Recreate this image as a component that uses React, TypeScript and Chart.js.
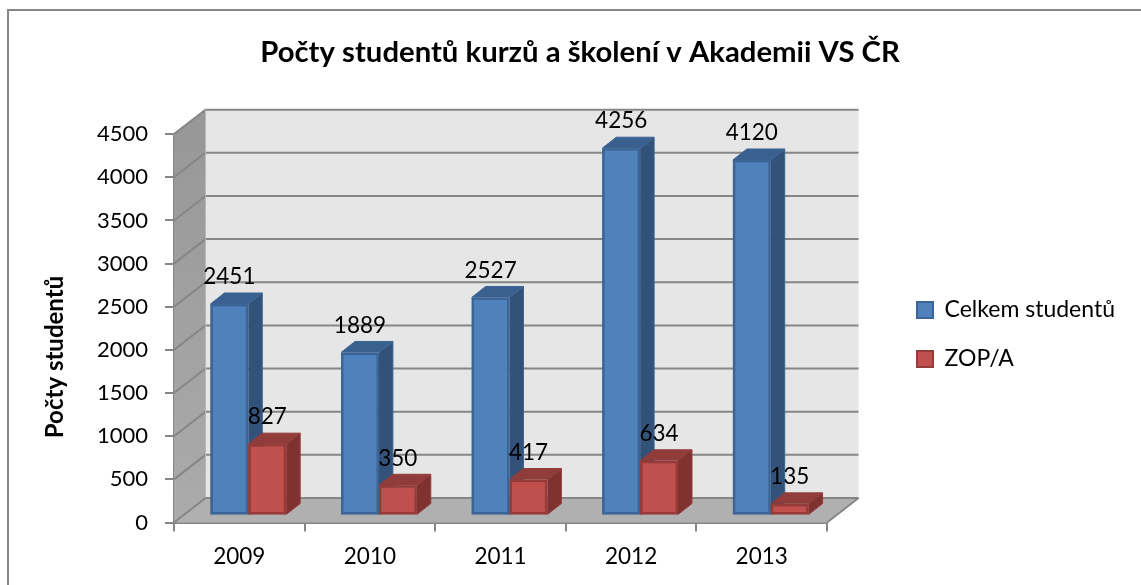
import React, { useEffect, useRef } from "react";
import { Chart, registerables } from "chart.js";

Chart.register(...registerables);

const categories = ["2009", "2010", "2011", "2012", "2013"];
const celkem = [2451, 1889, 2527, 4256, 4120];
const zop = [827, 350, 417, 634, 135];

const titleText = "Počty studentů kurzů a školení v Akademii VS ČR";
const yTitleText = "Počty studentů";
const FONT = "Lato, Carlito, Calibri, sans-serif";
const GRID = "#868686";

// 3D projection offsets, relative to the front plane of the axes
const WALL = { dx: 31.5, dy: -24.5 };
const BAR_FRONT = { dx: 9, dy: -7 };
const BAR_DEPTH = { dx: 14, dy: -11 };

const faces = [
  { side: "#33527A", top: "#3A6090", edge: "#3A6596" },
  { side: "#7F3230", top: "#8F3C3A", edge: "#953B39" },
];

function poly(ctx: CanvasRenderingContext2D, pts: number[][], fill: string | CanvasGradient) {
  ctx.beginPath();
  pts.forEach((p, i) => (i ? ctx.lineTo(p[0], p[1]) : ctx.moveTo(p[0], p[1])));
  ctx.closePath();
  ctx.fillStyle = fill;
  ctx.fill();
}

const scene = {
  id: "scene",
  afterLayout(chart: any) {
    const lg = chart.legend;
    const pad = lg.options.labels.padding;
    const shiftY = 334.5 - (lg.top + lg.bottom) / 2;
    lg.top += shiftY;
    lg.bottom += shiftY;
    const shiftX = 917 - (lg.left + pad);
    lg.left += shiftX;
    lg.right += shiftX;
    const tb = chart.titleBlock;
    const shiftT = 580 - (tb.left + tb.right) / 2;
    tb.left += shiftT;
    tb.right += shiftT;
  },
  beforeDraw(chart: any) {
    const { ctx } = chart;
    ctx.save();
    ctx.fillStyle = "#fff";
    ctx.fillRect(0, 0, chart.width, chart.height);
    ctx.strokeStyle = GRID;
    ctx.lineWidth = 2;
    ctx.beginPath();
    ctx.moveTo(8, chart.height);
    ctx.lineTo(8, 10);
    ctx.lineTo(chart.width, 10);
    ctx.stroke();
    ctx.restore();
  },
  beforeDatasetsDraw(chart: any) {
    const { ctx, scales, chartArea: a } = chart;
    const y = scales.y;
    const { dx, dy } = WALL;
    const y0 = y.getPixelForValue(0);
    const yMax = y.getPixelForValue(y.max);
    ctx.save();
    poly(ctx, [[a.left + dx, yMax + dy], [a.right + dx, yMax + dy], [a.right + dx, y0 + dy], [a.left + dx, y0 + dy]], "#E6E6E6");
    const g = ctx.createLinearGradient(0, yMax, 0, y0);
    g.addColorStop(0, "#989898");
    g.addColorStop(1, "#ABABAB");
    poly(ctx, [[a.left, yMax], [a.left + dx, yMax + dy], [a.left + dx, y0 + dy], [a.left, y0]], g);
    poly(ctx, [[a.left, y0], [a.left + dx, y0 + dy], [a.right + dx, y0 + dy], [a.right, y0]], "#B0B0B0");
    ctx.strokeStyle = GRID;
    ctx.lineWidth = 2;
    y.ticks.forEach((t: any) => {
      const py = y.getPixelForValue(t.value);
      ctx.beginPath();
      ctx.moveTo(a.left, py);
      ctx.lineTo(a.left + dx, py + dy);
      ctx.lineTo(a.right + dx, py + dy);
      ctx.stroke();
    });
    ctx.beginPath();
    ctx.moveTo(a.right, y0);
    ctx.lineTo(a.right + dx, y0 + dy);
    ctx.stroke();
    ctx.beginPath();
    ctx.moveTo(a.left + dx, yMax + dy);
    ctx.lineTo(a.left + dx, y0 + dy);
    ctx.strokeStyle = "#B8B8B8";
    ctx.lineWidth = 1;
    ctx.stroke();
    ctx.restore();
    ctx.save();
    ctx.translate(BAR_FRONT.dx, BAR_FRONT.dy);
    // side and top faces first: blue, then red, so every front face lands on top
    chart.data.datasets.forEach((_: any, i: number) => {
      const f = faces[i];
      const d = BAR_DEPTH;
      chart.getDatasetMeta(i).data.forEach((b: any) => {
        const l = b.x - b.width / 2;
        const r = b.x + b.width / 2;
        poly(ctx, [[r, b.y], [r + d.dx, b.y + d.dy], [r + d.dx, b.base + d.dy], [r, b.base]], f.side);
        poly(ctx, [[l, b.y], [l + d.dx, b.y + d.dy], [r + d.dx, b.y + d.dy], [r, b.y]], f.top);
        ctx.strokeStyle = f.edge;
        ctx.lineWidth = 1;
        ctx.beginPath();
        ctx.moveTo(l, b.y);
        ctx.lineTo(l + d.dx, b.y + d.dy);
        ctx.lineTo(r + d.dx, b.y + d.dy);
        ctx.lineTo(r + d.dx, b.base + d.dy);
        ctx.lineTo(r, b.base);
        ctx.moveTo(r, b.y);
        ctx.lineTo(r + d.dx, b.y + d.dy);
        ctx.stroke();
      });
    });
  },
  afterDatasetsDraw(chart: any) {
    const { ctx } = chart;
    // close the pale seam between each bar's border and fill
    chart.data.datasets.forEach((_: any, i: number) => {
      ctx.strokeStyle = faces[i].edge;
      ctx.lineWidth = 2.5;
      chart.getDatasetMeta(i).data.forEach((b: any) => {
        ctx.strokeRect(b.x - b.width / 2 + 1.25, b.y + 1.25, b.width - 2.5, b.base - b.y - 2.5);
      });
    });
    ctx.restore();
    ctx.save();
    ctx.fillStyle = "#000";
    ctx.font = `22.5px ${FONT}`;
    ctx.textAlign = "center";
    ctx.textBaseline = "middle";
    chart.data.datasets.forEach((ds: any, i: number) => {
      chart.getDatasetMeta(i).data.forEach((b: any, j: number) => {
        ctx.fillText(String(ds.data[j]), b.x + BAR_FRONT.dx, b.y + BAR_FRONT.dy - 27);
      });
    });
    ctx.restore();
    ctx.save();
    ctx.translate(55, 357);
    ctx.rotate(-Math.PI / 2);
    ctx.fillStyle = "#000";
    ctx.font = `bold 24px ${FONT}`;
    ctx.textAlign = "center";
    ctx.textBaseline = "middle";
    ctx.fillText(yTitleText, 0, 0);
    ctx.restore();
  },
};

export default function App() {
  const ref = useRef<HTMLCanvasElement>(null);
  useEffect(() => {
    document.body.style.margin = "0";
    const chart = new Chart(ref.current!, {
      type: "bar",
      data: {
        labels: categories,
        datasets: [
          { label: "Celkem studentů", data: celkem, backgroundColor: "#4F81BD", borderColor: faces[0].edge, borderWidth: 2, clip: false as any },
          { label: "ZOP/A", data: zop, backgroundColor: "#C0504D", borderColor: faces[1].edge, borderWidth: 2, clip: false as any },
        ],
      },
      plugins: [scene],
      options: {
        animation: false,
        responsive: false,
        layout: { padding: { left: 0, right: 80, top: 35, bottom: 2.5 } },
        datasets: { bar: { categoryPercentage: 0.58, barPercentage: 1 } },
        plugins: {
          title: { display: true, text: titleText, color: "#000", font: { family: FONT, size: 29.3, weight: "bold" }, padding: { top: 0, bottom: 64 } },
          legend: {
            position: "right",
            labels: { boxWidth: 16, boxHeight: 16, color: "#000", padding: 26, font: { family: FONT, size: 23 } },
          },
          tooltip: { enabled: false },
        },
        scales: {
          x: {
            grid: { drawOnChartArea: false, color: GRID, lineWidth: 2, tickLength: 9 },
            border: { color: GRID, width: 2 },
            ticks: { color: "#000", padding: 12, font: { family: FONT, size: 22.5 }, maxRotation: 0 },
          },
          y: {
            min: 0,
            max: 4500,
            afterFit(s: any) { s.width = 174; },
            grid: { drawOnChartArea: false, color: GRID, lineWidth: 2, tickLength: 9 },
            border: { color: GRID, width: 2 },
            ticks: { stepSize: 500, color: "#000", padding: 17, font: { family: FONT, size: 22 }, callback: (v: any) => String(v) },
          },
        },
      },
    } as any);
    return () => chart.destroy();
  }, []);
  return <canvas ref={ref} width={1141} height={585} style={{ position: "fixed", left: 0, top: 0, display: "block" }} />;
}
